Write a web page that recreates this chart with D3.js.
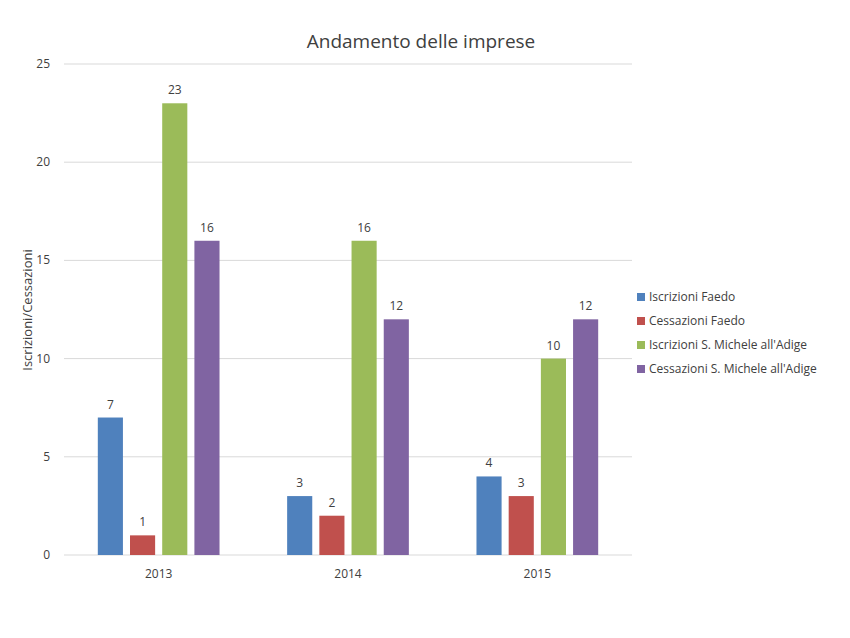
<!DOCTYPE html>
<html><head><meta charset="utf-8">
<script src="https://cdn.jsdelivr.net/npm/d3@7"></script>
<style>body{margin:0;background:#fff;font-family:"Open Sans","Segoe UI",sans-serif}</style>
</head><body>
<svg id="c" width="850" height="638"></svg>
<script>
const years = ['2013', '2014', '2015']
const seriesNames = ['Iscrizioni Faedo', 'Cessazioni Faedo', 'Iscrizioni S. Michele all\'Adige', 'Cessazioni S. Michele all\'Adige']
const colors = ['#4F81BD', '#C0504D', '#9BBB59', '#8064A2']
const iscrFaedo = [7, 3, 4]
const cessFaedo = [1, 2, 3]
const iscrSM = [23, 16, 10]
const cessSM = [16, 12, 12]
const yTicks = [0, 5, 10, 15, 20, 25]

const series = [iscrFaedo, cessFaedo, iscrSM, cessSM]
const svg = d3.select('#c')
const plotLeft = 64, plotRight = 632, plotTop = 64, plotBottom = 555

const x = d3.scaleBand().domain(years).range([plotLeft, plotRight])
const x1 = d3.scaleBand().domain(d3.range(4)).range([0, x.bandwidth()]).paddingInner(0.22).paddingOuter(1.05)
const y = d3.scaleLinear().domain([0, 25]).range([plotBottom, plotTop])

// griglia
svg.append('g').selectAll('line').data(yTicks).enter().append('line')
    .attr('x1', plotLeft).attr('x2', plotRight)
    .attr('y1', d => y(d)).attr('y2', d => y(d))
    .attr('stroke', '#d9d9d9')
svg.append('g').selectAll('text').data(yTicks).enter().append('text')
    .attr('x', 50).attr('y', d => y(d) + 4)
    .attr('text-anchor', 'end').attr('font-size', 12).attr('fill', '#404040')
    .text(d => d)

svg.append('g').selectAll('text').data(years).enter().append('text')
    .attr('x', d => x(d) + x.bandwidth() / 2).attr('y', 578)
    .attr('text-anchor', 'middle').attr('font-size', 12).attr('fill', '#404040')
    .text(d => d)

series.forEach((vals, s) => {
    const g = svg.append('g')
    g.selectAll('rect').data(vals).enter().append('rect')
        .attr('x', (d, i) => x(years[i]) + x1(s))
        .attr('width', x1.bandwidth())
        .attr('y', d => y(d))
        .attr('height', d => y(0) - y(d))
        .attr('fill', colors[s])
    g.selectAll('text').data(vals).enter().append('text')
        .attr('x', (d, i) => x(years[i]) + x1(s) + x1.bandwidth() / 2)
        .attr('y', d => y(d) - 9)
        .attr('text-anchor', 'middle').attr('font-size', 12).attr('fill', '#404040')
        .text(d => d)
})

svg.append('text').attr('x', 421).attr('y', 48).attr('text-anchor', 'middle')
    .attr('font-size', 19).attr('fill', '#404040').text('Andamento delle imprese')

svg.append('text').attr('transform', 'translate(32,310) rotate(-90)')
    .attr('text-anchor', 'middle').attr('font-size', 13).attr('fill', '#404040')
    .text('Iscrizioni/Cessazioni')

const leg = svg.append('g').selectAll('g').data(seriesNames).enter().append('g')
    .attr('transform', (d, i) => `translate(637,${298 + i * 24})`)
leg.append('rect').attr('x', 0).attr('y', -5).attr('width', 8).attr('height', 8)
    .attr('fill', (d, i) => colors[i])
leg.append('text').attr('x', 12).attr('y', 3).attr('font-size', 12).attr('fill', '#404040')
    .text(d => d)
</script>
</body></html>
